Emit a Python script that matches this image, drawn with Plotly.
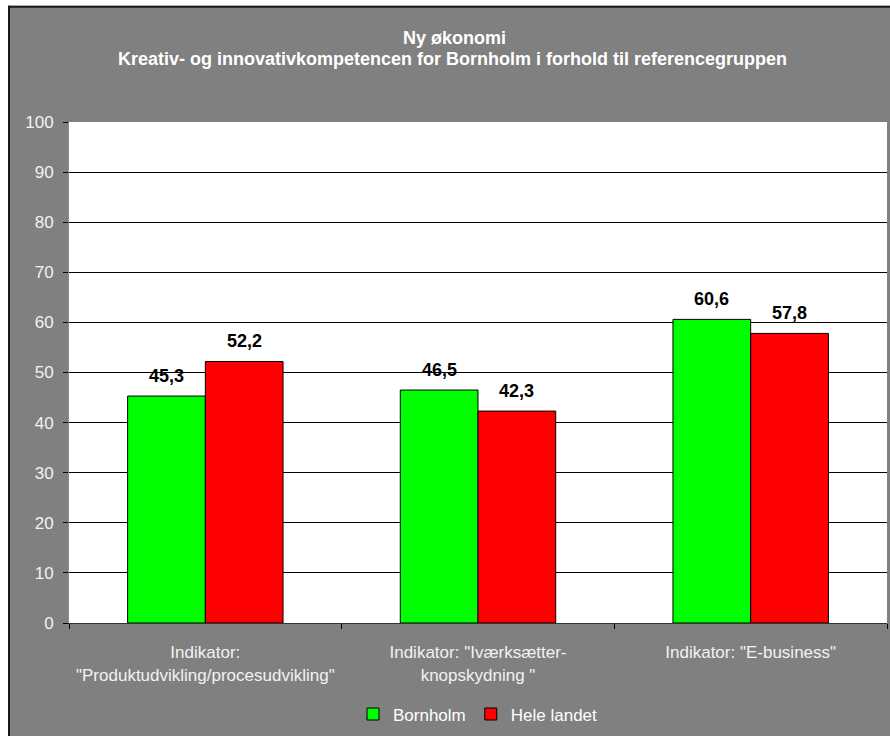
import plotly.graph_objects as go

categories = [
    'Indikator:<br>"Produktudvikling/procesudvikling"',
    'Indikator: "Iværksætter-<br>knopskydning "',
    'Indikator: "E-business"',
]
bornholm = [45.3, 46.5, 60.6]
hele_landet = [52.2, 42.3, 57.8]
title_line1 = "Ny økonomi"
title_line2 = "Kreativ- og innovativkompetencen for Bornholm i forhold til referencegruppen"

W, H = 890, 736
ML, MR, MT, MB = 69, 3, 122, 110
PW = W - ML - MR
PH = H - MT - MB
BARGAP = 0.43
BAR_W = PW / len(categories) * (1 - BARGAP) / 2


def px(x):
    return (x - ML) / PW


def py(y):
    return (H - MB - y) / PH


FONT = "Liberation Sans, Arial, sans-serif"

fig = go.Figure()
fig.add_trace(go.Bar(
    name="Bornholm", x=categories, y=bornholm,
    marker=dict(color="#00ff00", line=dict(color="#000000", width=1)),
))
fig.add_trace(go.Bar(
    name="Hele landet", x=categories, y=hele_landet,
    marker=dict(color="#ff0000", line=dict(color="#000000", width=1)),
))

shapes = [
    dict(type="rect", xref="paper", yref="paper", x0=px(-5), x1=px(8), y0=py(745), y1=py(-5),
         fillcolor="white", line=dict(width=0), layer="above"),
    dict(type="rect", xref="paper", yref="paper", x0=px(-5), x1=px(900), y0=py(5), y1=py(-5),
         fillcolor="white", line=dict(width=0), layer="above"),
    dict(type="line", xref="paper", yref="paper", x0=px(9), x1=px(9), y0=py(5), y1=py(745),
         line=dict(color="#1a1a1a", width=2), layer="above"),
    dict(type="line", xref="paper", yref="paper", x0=px(8), x1=px(900), y0=py(6), y1=py(6),
         line=dict(color="#1a1a1a", width=2), layer="above"),
]

annotations = [
    dict(text="<b>" + title_line1 + "</b>", xref="paper", yref="paper", x=px(454), y=py(37),
         xanchor="center", yanchor="middle", showarrow=False,
         font=dict(family=FONT, size=18, color="white")),
    dict(text="<b>" + title_line2 + "</b>", xref="paper", yref="paper", x=px(452), y=py(59),
         xanchor="center", yanchor="middle", showarrow=False,
         font=dict(family=FONT, size=18, color="white")),
]

for series, sign in ((bornholm, -1), (hele_landet, 1)):
    for cat, val in zip(categories, series):
        annotations.append(dict(
            text="<b>" + f"{val:.1f}".replace(".", ",") + "</b>",
            x=cat, y=val, xref="x", yref="y",
            xshift=sign * BAR_W / 2, yshift=20,
            xanchor="center", yanchor="middle", showarrow=False,
            font=dict(family=FONT, size=18, color="#000000"),
        ))

fig.update_layout(
    width=W, height=H,
    margin=dict(l=ML, r=MR, t=MT, b=MB),
    paper_bgcolor="#808080",
    plot_bgcolor="#ffffff",
    barmode="group",
    bargap=BARGAP,
    bargroupgap=0,
    separators=",.",
    showlegend=True,
    legend=dict(orientation="h", x=px(478), y=py(718), xanchor="center", yanchor="middle",
                font=dict(family=FONT, size=17, color="white"), bgcolor="rgba(0,0,0,0)",
                itemwidth=30, tracegroupgap=0),
    shapes=shapes,
    annotations=annotations,
    font=dict(family=FONT),
)
fig.update_xaxes(
    type="category", tickson="boundaries", ticks="outside", ticklen=5, tickcolor="#000000",
    showline=True, linecolor="#333333", linewidth=1, showgrid=False,
    ticklabelstandoff=14,
    tickfont=dict(family=FONT, size=17, color="#f2f2f2"),
)
fig.update_yaxes(
    range=[0, 100], dtick=10, tick0=0, ticks="outside", ticklen=5, tickcolor="#000000",
    showline=True, linecolor="#8c8c8c", linewidth=1, mirror=False,
    showgrid=True, gridcolor="#000000", gridwidth=1, zeroline=False,
    ticklabelstandoff=6,
    tickfont=dict(family=FONT, size=17, color="#f2f2f2"),
)

fig.write_html("out.html")
